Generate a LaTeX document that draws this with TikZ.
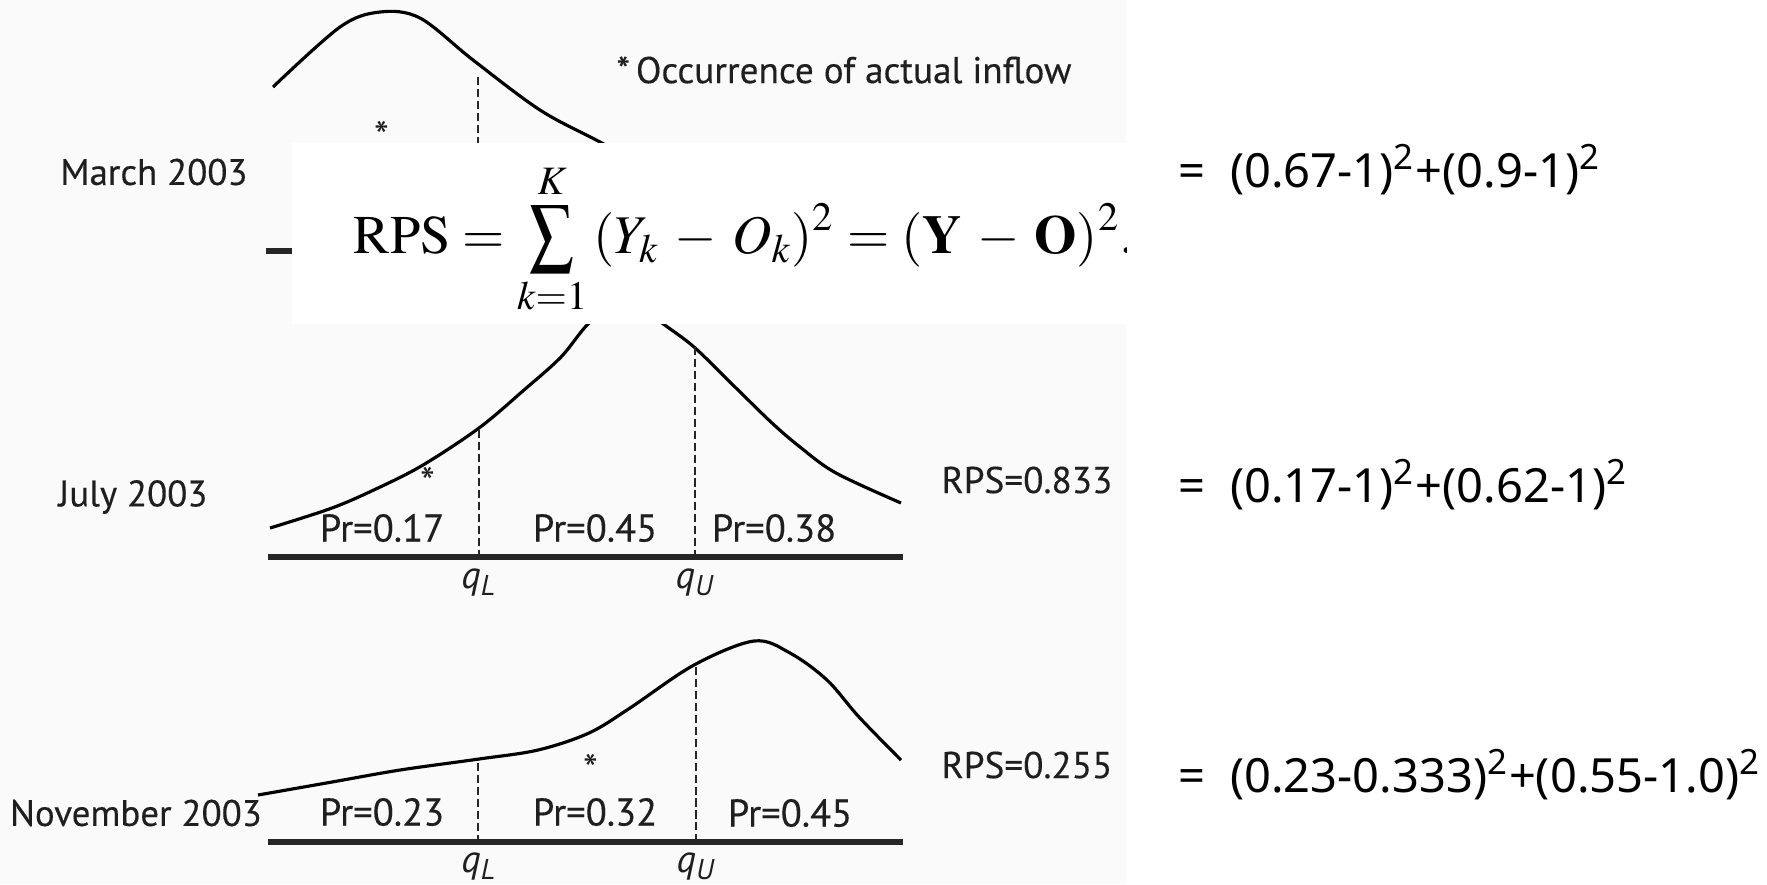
\documentclass[tikz,border=0pt]{standalone}
\usepackage{mathptmx}
\usepackage[no-math]{fontspec}
\setmainfont{PT Sans}
\newfontfamily\labfont[FakeBold=0.3]{PT Sans}
\newfontfamily\eqfont{Noto Sans}
\usepackage{tikz}
\usetikzlibrary{positioning}
\colorlet{inkgrey}{black!88}
\tikzset{
  curve/.style={line width=0.9pt, draw=black},
  axisline/.style={line width=1.5pt, draw=black!85},
  qline/.style={line width=0.8pt, dash pattern=on 2.3pt off 1.1pt, draw=black!85},
  month/.style={font=\labfont\fontsize{10.5}{12}\selectfont, text=inkgrey, inner sep=0pt},
  prob/.style={font=\labfont\fontsize{11}{13}\selectfont, text=inkgrey, inner sep=0pt},
  qlab/.style={font=\fontsize{11}{13}\selectfont\itshape, text=inkgrey, inner sep=0pt},
  score/.style={font=\labfont\fontsize{10.6}{12}\selectfont, text=inkgrey, inner sep=0pt},
  sumline/.style={font=\eqfont\fontsize{13.4}{15}\selectfont, anchor=base west, inner sep=0pt},
  hit/.style={font=\fontsize{12}{12}\selectfont, text=inkgrey, inner sep=0pt},
}

\begin{document}
\begin{tikzpicture}[x=0.1mm,y=-0.1mm]
\useasboundingbox (0,0) rectangle (1767,884);
% scanned figure area
\fill[black!2] (0,0) rectangle (1126,884);
% march 2003 (mostly under the formula)
\draw[curve] plot[smooth, tension=0.55] coordinates {(273,87) (340,27) (380,12) (420,18) (473,60) (540,110) (600,142) (700,195) (800,228) (903,245)};
\draw[axisline] (266,251) -- (903,251);
\draw[qline] (478,77) -- (478,251);
\node[hit] (starmar) at (382,136) {*};
\node[month] (mar) at (154,172) {March 2003};
\node[font=\labfont\fontsize{10.6}{12}\selectfont, text=inkgrey, inner sep=0pt, anchor=west] (legend) at (616,70) {*\,Occurrence of actual inflow};
% july 2003
\draw[curve] plot[smooth, tension=0.55] coordinates {(270,528) (332,508) (378,488) (423,465) (479,428) (524,390) (561,357) (589,323) (625,295) (662,323) (694,347) (735,387) (772,423) (800,447) (836,473) (901,503)};
\draw[axisline] (268,557) -- (903,557);
\draw[qline] (479,430) -- (479,557);
\draw[qline] (695,347) -- (695,557);
\node[hit] (starjul) at (428,482) {*};
\node[month] (jul) at (133,497) {July 2003};
\node[prob] (jp1) at (382,528) {Pr=0.17};
\node[prob] (jp2) at (595,528) {Pr=0.45};
\node[prob] (jp3) at (774,528) {Pr=0.38};
\node[qlab] (jql) at (479,583) {q\textsubscript{L}};
\node[qlab] (jqu) at (695,583) {q\textsubscript{U}};
\node[score] (jrps) at (1027,480) {RPS=0.833};
% november 2003
\draw[curve] plot[smooth, tension=0.55] coordinates {(258,795) (332,782) (400,770) (479,759) (538,750) (589,733) (630,708) (694,665) (754,641) (790,653) (827,680) (859,717) (901,760)};
\draw[axisline] (268,842) -- (903,842);
\draw[qline] (478,763) -- (478,842);
\draw[qline] (696,667) -- (696,842);
\node[hit] (starnov) at (591,769) {*};
\node[month] (nov) at (136,813) {November 2003};
\node[prob] (np1) at (382,812) {Pr=0.23};
\node[prob] (np2) at (595,812) {Pr=0.32};
\node[prob] (np3) at (790,813) {Pr=0.45};
\node[qlab] (nql) at (479,867) {q\textsubscript{L}};
\node[qlab] (nqu) at (696,867) {q\textsubscript{U}};
\node[score] (nrps) at (1027,765) {RPS=0.255};
% pasted formula
\fill[white] (292,143) rectangle (1126,324);
\begin{scope}
\clip (292,143) rectangle (1126,324);
\node[anchor=base west, inner sep=0pt, font=\fontsize{15.5}{18}\selectfont] (rps) at (353,253)
  {\medmuskip=5mu $\displaystyle \mathrm{RPS} = \mathop{\vcenter{\hbox{\scalebox{0.8}[1]{$\displaystyle\sum$}}}}\limits_{k=1}^{K}\,(Y_k - O_k)^2 = (\mathbf{Y} - \mathbf{O})^2.$};
\end{scope}
% worked sums
\node[sumline] (sum1) at (1178,187) {=~~(0.67-1)\textsuperscript{2}+(0.9-1)\textsuperscript{2}};
\node[sumline] (sum2) at (1178,502) {=~~(0.17-1)\textsuperscript{2}+(0.62-1)\textsuperscript{2}};
\node[sumline] (sum3) at (1178,792) {=~~(0.23-0.333)\textsuperscript{2}+(0.55-1.0)\textsuperscript{2}};
\end{tikzpicture}
\end{document}
